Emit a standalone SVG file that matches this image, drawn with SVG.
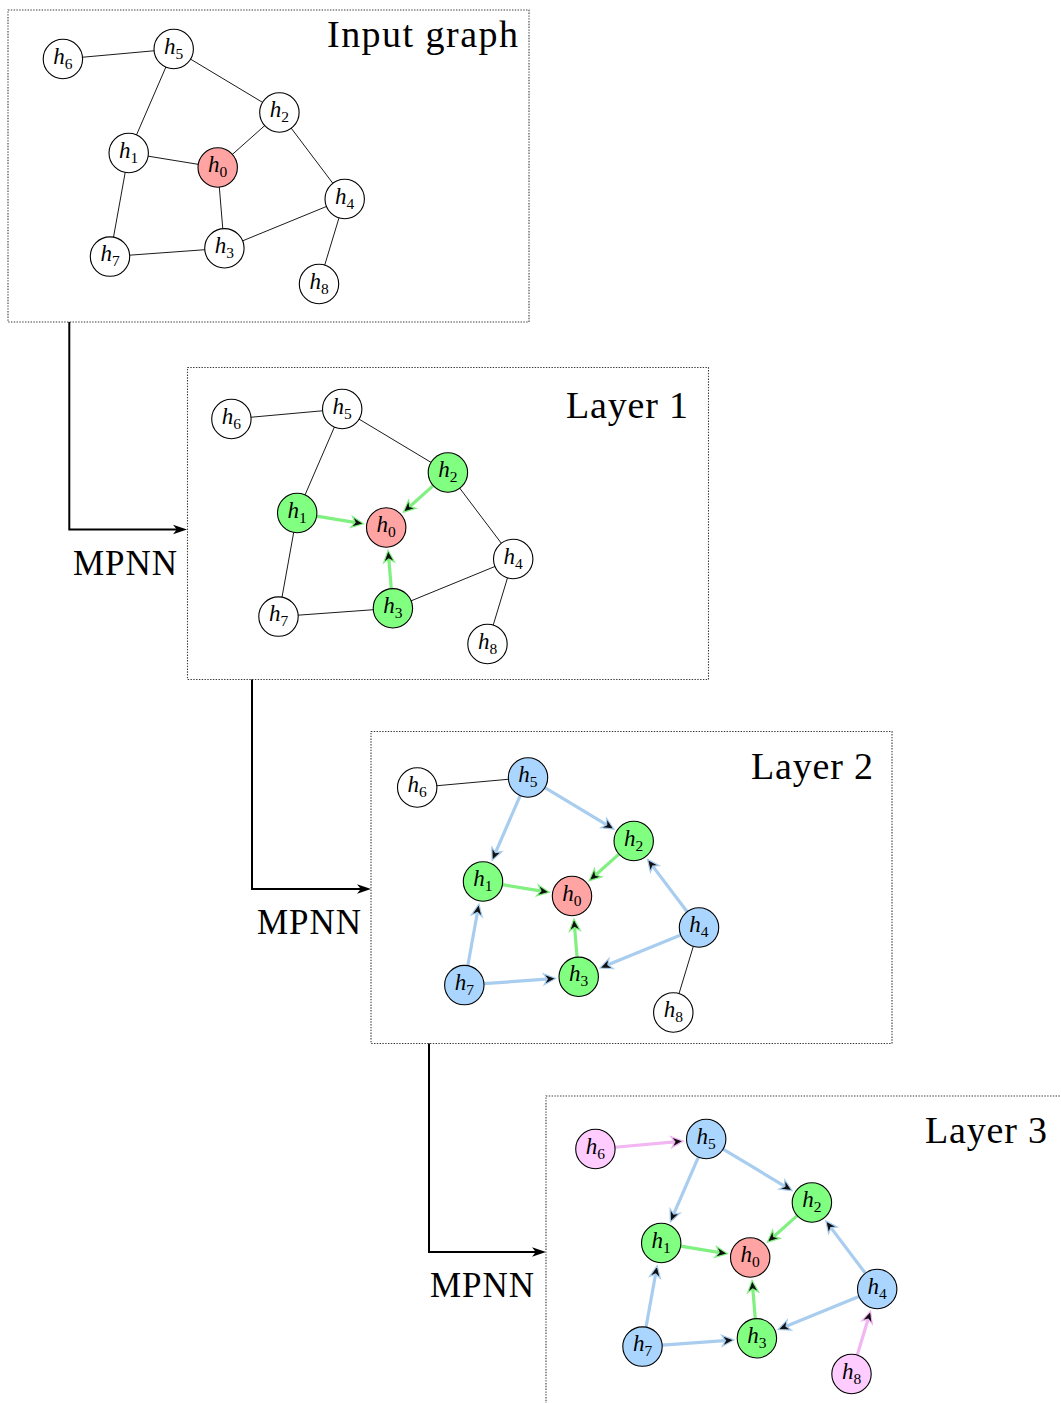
<svg xmlns="http://www.w3.org/2000/svg" width="1061" height="1403" viewBox="0 0 1061 1403">
  <style>
    .frame { fill: none; stroke: #3a3a3a; stroke-width: 1.1; stroke-dasharray: 1.4 1.4; }
    .title { font-family: "Liberation Serif", "Times New Roman", serif; font-size: 38px; fill: #000; text-anchor: end; }
    .step { font-family: "Liberation Serif", "Times New Roman", serif; font-size: 35px; fill: #000; text-anchor: end; }
    .pipe { fill: none; stroke: #000; stroke-width: 2; }
    .edge { fill: none; stroke: #000; stroke-width: 0.9; }
    .msg { fill: none; stroke-width: 3.2; }
    .msg-g { stroke: #80f080; }
    .msg-b { stroke: #a8cdef; }
    .msg-p { stroke: #f2b6f2; }
    .node circle { stroke: #000; stroke-width: 1.1; fill: #fff; }
    .node.red circle { fill: #ffa3a3; }
    .node.green circle { fill: #80ff80; }
    .node.blue circle { fill: #aad5ff; }
    .node.pink circle { fill: #ffccff; }
    .lbl { font-family: "Liberation Serif", "Times New Roman", serif; font-style: italic; font-size: 23px; fill: #000; text-anchor: middle; }
    .sub { font-style: normal; font-size: 15.5px; }
  </style>
  <defs>
    <marker id="tip-main" markerUnits="userSpaceOnUse" viewBox="0 -7 18 14" markerWidth="18" markerHeight="14" refX="7" refY="0" orient="auto" overflow="visible">
      <path d="M0,-4.8 L14,0 L0,4.8 L3.8,0 Z" fill="#000"/>
    </marker>
    <marker id="tip-g" markerUnits="userSpaceOnUse" viewBox="0 -7 14 14" markerWidth="14" markerHeight="14" refX="6" refY="0" orient="auto" overflow="visible">
      <path d="M0,-5.5 L12,0 L0,5.5 L3.5,0 Z" fill="#111" stroke="#80f080" stroke-width="1.2"/>
    </marker>
    <marker id="tip-b" markerUnits="userSpaceOnUse" viewBox="0 -7 14 14" markerWidth="14" markerHeight="14" refX="6" refY="0" orient="auto" overflow="visible">
      <path d="M0,-5.5 L12,0 L0,5.5 L3.5,0 Z" fill="#111" stroke="#a8cdef" stroke-width="1.2"/>
    </marker>
    <marker id="tip-p" markerUnits="userSpaceOnUse" viewBox="0 -7 14 14" markerWidth="14" markerHeight="14" refX="6" refY="0" orient="auto" overflow="visible">
      <path d="M0,-5.5 L12,0 L0,5.5 L3.5,0 Z" fill="#111" stroke="#f2b6f2" stroke-width="1.2"/>
    </marker>
  </defs>

  <rect width="1061" height="1403" fill="#fff"/>

  <!-- dotted frames with their titles -->
  <g id="frames">
    <rect class="frame" x="8" y="10" width="521" height="312"/>
    <text class="title" x="518" y="47" textLength="191" lengthAdjust="spacing">Input graph</text>
    <rect class="frame" x="187.5" y="367.5" width="521" height="312"/>
    <text class="title" x="688" y="418" textLength="122" lengthAdjust="spacing">Layer 1</text>
    <rect class="frame" x="371" y="731.5" width="521" height="312"/>
    <text class="title" x="873" y="779" textLength="122" lengthAdjust="spacing">Layer 2</text>
    <rect class="frame" x="546" y="1096" width="521" height="312"/>
    <text class="title" x="1047" y="1143" textLength="122" lengthAdjust="spacing">Layer 3</text>
  </g>

  <!-- MPNN steps between stages -->
  <g id="pipeline">
    <polyline class="pipe" points="69.3,322 69.3,529.5 180,529.5" marker-end="url(#tip-main)"/>
    <text class="step" x="177" y="575" textLength="104" lengthAdjust="spacing">MPNN</text>
    <polyline class="pipe" points="252,679.5 252,889 364,889" marker-end="url(#tip-main)"/>
    <text class="step" x="361" y="934" textLength="104" lengthAdjust="spacing">MPNN</text>
    <polyline class="pipe" points="429,1043.5 429,1252 539,1252" marker-end="url(#tip-main)"/>
    <text class="step" x="534" y="1297" textLength="104" lengthAdjust="spacing">MPNN</text>
  </g>

  <!-- Input graph -->
  <g id="graph-input">
    <g id="input-connectors">
      <line class="edge" x1="62.9" y1="59" x2="173.7" y2="49"/>
      <line class="edge" x1="173.7" y1="49" x2="128.7" y2="153"/>
      <line class="edge" x1="173.7" y1="49" x2="279.4" y2="112.5"/>
      <line class="edge" x1="279.4" y1="112.5" x2="217.7" y2="167.5"/>
      <line class="edge" x1="279.4" y1="112.5" x2="344.7" y2="199"/>
      <line class="edge" x1="128.7" y1="153" x2="217.7" y2="167.5"/>
      <line class="edge" x1="128.7" y1="153" x2="110" y2="256.6"/>
      <line class="edge" x1="217.7" y1="167.5" x2="224.4" y2="248.3"/>
      <line class="edge" x1="110" y1="256.6" x2="224.4" y2="248.3"/>
      <line class="edge" x1="224.4" y1="248.3" x2="344.7" y2="199"/>
      <line class="edge" x1="344.7" y1="199" x2="319" y2="284"/>
    </g>
    <g id="in-h0" class="node red"><circle cx="217.7" cy="167.5" r="19.7"/><text class="lbl" x="217.7" y="172">h<tspan class="sub" dy="5">0</tspan></text></g>
    <g id="in-h1" class="node"><circle cx="128.7" cy="153" r="19.7"/><text class="lbl" x="128.7" y="157.5">h<tspan class="sub" dy="5">1</tspan></text></g>
    <g id="in-h2" class="node"><circle cx="279.4" cy="112.5" r="19.7"/><text class="lbl" x="279.4" y="117">h<tspan class="sub" dy="5">2</tspan></text></g>
    <g id="in-h3" class="node"><circle cx="224.4" cy="248.3" r="19.7"/><text class="lbl" x="224.4" y="252.8">h<tspan class="sub" dy="5">3</tspan></text></g>
    <g id="in-h4" class="node"><circle cx="344.7" cy="199" r="19.7"/><text class="lbl" x="344.7" y="203.5">h<tspan class="sub" dy="5">4</tspan></text></g>
    <g id="in-h5" class="node"><circle cx="173.7" cy="49" r="19.7"/><text class="lbl" x="173.7" y="53.5">h<tspan class="sub" dy="5">5</tspan></text></g>
    <g id="in-h6" class="node"><circle cx="62.9" cy="59" r="19.7"/><text class="lbl" x="62.9" y="63.5">h<tspan class="sub" dy="5">6</tspan></text></g>
    <g id="in-h7" class="node"><circle cx="110" cy="256.6" r="19.7"/><text class="lbl" x="110" y="261.1">h<tspan class="sub" dy="5">7</tspan></text></g>
    <g id="in-h8" class="node"><circle cx="319" cy="284" r="19.7"/><text class="lbl" x="319" y="288.5">h<tspan class="sub" dy="5">8</tspan></text></g>
  </g>

  <!-- Layer 1: neighbours of h0 send messages -->
  <g id="graph-layer1" transform="translate(168.5,360)">
    <g id="l1-connectors">
      <line class="edge" x1="62.9" y1="59" x2="173.7" y2="49"/>
      <line class="edge" x1="173.7" y1="49" x2="128.7" y2="153"/>
      <line class="edge" x1="173.7" y1="49" x2="279.4" y2="112.5"/>
      <line class="edge" x1="279.4" y1="112.5" x2="344.7" y2="199"/>
      <line class="edge" x1="128.7" y1="153" x2="110" y2="256.6"/>
      <line class="edge" x1="110" y1="256.6" x2="224.4" y2="248.3"/>
      <line class="edge" x1="224.4" y1="248.3" x2="344.7" y2="199"/>
      <line class="edge" x1="344.7" y1="199" x2="319" y2="284"/>
      <path class="msg msg-g" d="M148.14,156.17 L189.08,162.84" marker-end="url(#tip-g)"/>
      <path class="msg msg-g" d="M264.70,125.61 L239.35,148.20" marker-end="url(#tip-g)"/>
      <path class="msg msg-g" d="M222.77,228.67 L220.10,196.40" marker-end="url(#tip-g)"/>
    </g>
    <g id="l1-h0" class="node red"><circle cx="217.7" cy="167.5" r="19.7"/><text class="lbl" x="217.7" y="172">h<tspan class="sub" dy="5">0</tspan></text></g>
    <g id="l1-h1" class="node green"><circle cx="128.7" cy="153" r="19.7"/><text class="lbl" x="128.7" y="157.5">h<tspan class="sub" dy="5">1</tspan></text></g>
    <g id="l1-h2" class="node green"><circle cx="279.4" cy="112.5" r="19.7"/><text class="lbl" x="279.4" y="117">h<tspan class="sub" dy="5">2</tspan></text></g>
    <g id="l1-h3" class="node green"><circle cx="224.4" cy="248.3" r="19.7"/><text class="lbl" x="224.4" y="252.8">h<tspan class="sub" dy="5">3</tspan></text></g>
    <g id="l1-h4" class="node"><circle cx="344.7" cy="199" r="19.7"/><text class="lbl" x="344.7" y="203.5">h<tspan class="sub" dy="5">4</tspan></text></g>
    <g id="l1-h5" class="node"><circle cx="173.7" cy="49" r="19.7"/><text class="lbl" x="173.7" y="53.5">h<tspan class="sub" dy="5">5</tspan></text></g>
    <g id="l1-h6" class="node"><circle cx="62.9" cy="59" r="19.7"/><text class="lbl" x="62.9" y="63.5">h<tspan class="sub" dy="5">6</tspan></text></g>
    <g id="l1-h7" class="node"><circle cx="110" cy="256.6" r="19.7"/><text class="lbl" x="110" y="261.1">h<tspan class="sub" dy="5">7</tspan></text></g>
    <g id="l1-h8" class="node"><circle cx="319" cy="284" r="19.7"/><text class="lbl" x="319" y="288.5">h<tspan class="sub" dy="5">8</tspan></text></g>
  </g>

  <!-- Layer 2: two-hop neighbours join in -->
  <g id="graph-layer2" transform="translate(354.3,728.5)">
    <g id="l2-connectors">
      <line class="edge" x1="62.9" y1="59" x2="173.7" y2="49"/>
      <line class="edge" x1="344.7" y1="199" x2="319" y2="284"/>
      <path class="msg msg-b" d="M165.88,67.08 L140.22,126.38" marker-end="url(#tip-b)"/>
      <path class="msg msg-b" d="M190.59,59.14 L254.54,97.57" marker-end="url(#tip-b)"/>
      <path class="msg msg-b" d="M113.50,237.21 L123.55,181.54" marker-end="url(#tip-b)"/>
      <path class="msg msg-b" d="M129.65,255.17 L195.48,250.40" marker-end="url(#tip-b)"/>
      <path class="msg msg-b" d="M332.83,183.28 L296.87,135.65" marker-end="url(#tip-b)"/>
      <path class="msg msg-b" d="M326.47,206.47 L251.23,237.30" marker-end="url(#tip-b)"/>
      <path class="msg msg-g" d="M148.14,156.17 L189.08,162.84" marker-end="url(#tip-g)"/>
      <path class="msg msg-g" d="M264.70,125.61 L239.35,148.20" marker-end="url(#tip-g)"/>
      <path class="msg msg-g" d="M222.77,228.67 L220.10,196.40" marker-end="url(#tip-g)"/>
    </g>
    <g id="l2-h0" class="node red"><circle cx="217.7" cy="167.5" r="19.7"/><text class="lbl" x="217.7" y="172">h<tspan class="sub" dy="5">0</tspan></text></g>
    <g id="l2-h1" class="node green"><circle cx="128.7" cy="153" r="19.7"/><text class="lbl" x="128.7" y="157.5">h<tspan class="sub" dy="5">1</tspan></text></g>
    <g id="l2-h2" class="node green"><circle cx="279.4" cy="112.5" r="19.7"/><text class="lbl" x="279.4" y="117">h<tspan class="sub" dy="5">2</tspan></text></g>
    <g id="l2-h3" class="node green"><circle cx="224.4" cy="248.3" r="19.7"/><text class="lbl" x="224.4" y="252.8">h<tspan class="sub" dy="5">3</tspan></text></g>
    <g id="l2-h4" class="node blue"><circle cx="344.7" cy="199" r="19.7"/><text class="lbl" x="344.7" y="203.5">h<tspan class="sub" dy="5">4</tspan></text></g>
    <g id="l2-h5" class="node blue"><circle cx="173.7" cy="49" r="19.7"/><text class="lbl" x="173.7" y="53.5">h<tspan class="sub" dy="5">5</tspan></text></g>
    <g id="l2-h6" class="node"><circle cx="62.9" cy="59" r="19.7"/><text class="lbl" x="62.9" y="63.5">h<tspan class="sub" dy="5">6</tspan></text></g>
    <g id="l2-h7" class="node blue"><circle cx="110" cy="256.6" r="19.7"/><text class="lbl" x="110" y="261.1">h<tspan class="sub" dy="5">7</tspan></text></g>
    <g id="l2-h8" class="node"><circle cx="319" cy="284" r="19.7"/><text class="lbl" x="319" y="288.5">h<tspan class="sub" dy="5">8</tspan></text></g>
  </g>

  <!-- Layer 3: three-hop neighbours join in -->
  <g id="graph-layer3" transform="translate(532.5,1090)">
    <g id="l3-connectors">
      <path class="msg msg-p" d="M82.52,57.23 L144.82,51.61" marker-end="url(#tip-p)"/>
      <path class="msg msg-p" d="M324.70,265.14 L336.31,226.76" marker-end="url(#tip-p)"/>
      <path class="msg msg-b" d="M165.88,67.08 L140.22,126.38" marker-end="url(#tip-b)"/>
      <path class="msg msg-b" d="M190.59,59.14 L254.54,97.57" marker-end="url(#tip-b)"/>
      <path class="msg msg-b" d="M113.50,237.21 L123.55,181.54" marker-end="url(#tip-b)"/>
      <path class="msg msg-b" d="M129.65,255.17 L195.48,250.40" marker-end="url(#tip-b)"/>
      <path class="msg msg-b" d="M332.83,183.28 L296.87,135.65" marker-end="url(#tip-b)"/>
      <path class="msg msg-b" d="M326.47,206.47 L251.23,237.30" marker-end="url(#tip-b)"/>
      <path class="msg msg-g" d="M148.14,156.17 L189.08,162.84" marker-end="url(#tip-g)"/>
      <path class="msg msg-g" d="M264.70,125.61 L239.35,148.20" marker-end="url(#tip-g)"/>
      <path class="msg msg-g" d="M222.77,228.67 L220.10,196.40" marker-end="url(#tip-g)"/>
    </g>
    <g id="l3-h0" class="node red"><circle cx="217.7" cy="167.5" r="19.7"/><text class="lbl" x="217.7" y="172">h<tspan class="sub" dy="5">0</tspan></text></g>
    <g id="l3-h1" class="node green"><circle cx="128.7" cy="153" r="19.7"/><text class="lbl" x="128.7" y="157.5">h<tspan class="sub" dy="5">1</tspan></text></g>
    <g id="l3-h2" class="node green"><circle cx="279.4" cy="112.5" r="19.7"/><text class="lbl" x="279.4" y="117">h<tspan class="sub" dy="5">2</tspan></text></g>
    <g id="l3-h3" class="node green"><circle cx="224.4" cy="248.3" r="19.7"/><text class="lbl" x="224.4" y="252.8">h<tspan class="sub" dy="5">3</tspan></text></g>
    <g id="l3-h4" class="node blue"><circle cx="344.7" cy="199" r="19.7"/><text class="lbl" x="344.7" y="203.5">h<tspan class="sub" dy="5">4</tspan></text></g>
    <g id="l3-h5" class="node blue"><circle cx="173.7" cy="49" r="19.7"/><text class="lbl" x="173.7" y="53.5">h<tspan class="sub" dy="5">5</tspan></text></g>
    <g id="l3-h6" class="node pink"><circle cx="62.9" cy="59" r="19.7"/><text class="lbl" x="62.9" y="63.5">h<tspan class="sub" dy="5">6</tspan></text></g>
    <g id="l3-h7" class="node blue"><circle cx="110" cy="256.6" r="19.7"/><text class="lbl" x="110" y="261.1">h<tspan class="sub" dy="5">7</tspan></text></g>
    <g id="l3-h8" class="node pink"><circle cx="319" cy="284" r="19.7"/><text class="lbl" x="319" y="288.5">h<tspan class="sub" dy="5">8</tspan></text></g>
  </g>
</svg>
